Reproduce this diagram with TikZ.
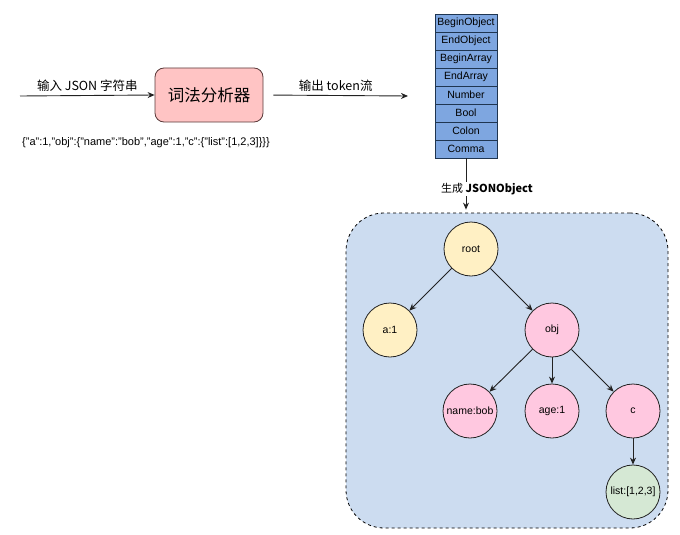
\documentclass[tikz,border=0pt]{standalone}
\usepackage{fontspec}
\setmainfont{Liberation Sans}
\newfontfamily\cjk{Noto Sans CJK SC}
\usetikzlibrary{arrows.meta,positioning}
\definecolor{lexfill}{HTML}{FFC4C4}
\definecolor{lexline}{HTML}{5A3A3A}
\definecolor{tokfill}{HTML}{7EA6E0}
\definecolor{tokline}{HTML}{1F3550}
\definecolor{treebg}{HTML}{CCDCF0}
\definecolor{rootfill}{HTML}{FFF0C4}
\definecolor{objfill}{HTML}{FFC8E0}
\definecolor{listfill}{HTML}{D5E8D4}
\definecolor{edgecol}{HTML}{222222}

\begin{document}
\begin{tikzpicture}[x=1pt, y=-1pt, font=\fontsize{10.5}{12}\selectfont,
		arr/.style={draw=edgecol, line width=0.9pt, -{Stealth[length=7pt,width=6pt]}},
		tok/.style={rectangle, draw=tokline, line width=0.8pt, fill=tokfill, minimum width=62pt, minimum height=18pt, inner sep=0pt, font=\fontsize{10.5}{12}\selectfont},
		ball/.style={circle, draw=edgecol, line width=0.8pt, minimum size=54pt, inner sep=0pt}]
		\useasboundingbox (0,0) rectangle (680,535);

		% lexer part
		\node[draw=lexline, line width=0.8pt, fill=lexfill, rounded corners=9pt, minimum width=108pt, minimum height=54pt, font=\cjk\fontsize{16.5}{18}\selectfont] (lexer) at (209,95) {词法分析器};
		\coordinate (in) at (20,96);
		\coordinate (out) at (408,96);
		\draw[arr] (in) -- (lexer.west) node[midway, above=0pt, font=\cjk\fontsize{12.5}{14}\selectfont] {输入 JSON 字符串};
		\draw[arr, shorten <=10pt] (lexer.east) -- (out) node[midway, above=0pt, font=\cjk\fontsize{12.5}{14}\selectfont] {输出 token流};
		\node[font=\fontsize{11}{13}\selectfont] (json) at (146,143) {\{"a":1,"obj":\{"name":"bob","age":1,"c":\{"list":[1,2,3]\}\}\}};

		% token stack
		\begin{scope}[every node/.style={tok}]
			\node (t1) at (466,23) {BeginObject};
			\node (t2) at (466,41) {EndObject};
			\node (t3) at (466,59) {BeginArray};
			\node (t4) at (466,77) {EndArray};
			\node (t5) at (466,95) {Number};
			\node (t6) at (466,113) {Bool};
			\node (t7) at (466,131) {Colon};
			\node (t8) at (466,149) {Comma};
		\end{scope}

		% tree container
		\node[draw=black, line width=0.8pt, dashed, fill=treebg, rounded corners=38pt, minimum width=322pt, minimum height=315pt] (box) at (507,370.5) {};
		\draw[arr, shorten >=3pt] (t8.south) -- (t8.south |- box.north)
			node[pos=0.57, xshift=21pt, fill=white, inner sep=1pt, font=\cjk\fontsize{11}{13}\selectfont] {生成 \textbf{JSONObject}};

		\begin{scope}[every node/.style={ball}]
			\node[fill=rootfill] (root) at (471,249) {root};
			\node[fill=rootfill] (a) at (390,330) {a:1};
			\node[fill=objfill] (obj) at (552,330) {obj};
			\node[fill=objfill] (name) at (470,411) {name:bob};
			\node[fill=objfill] (age) at (552,411) {age:1};
			\node[fill=objfill] (c) at (633,411) {c};
			\node[fill=listfill] (list) at (633,492) {list:[1,2,3]};
		\end{scope}

		\begin{scope}[every path/.style={arr}]
			\path (root)
				edge (a)
				edge (obj);
			\path (obj)
				edge (name)
				edge (age)
				edge (c);
			\path (c)
				edge (list);
		\end{scope}
	\end{tikzpicture}
\end{document}
